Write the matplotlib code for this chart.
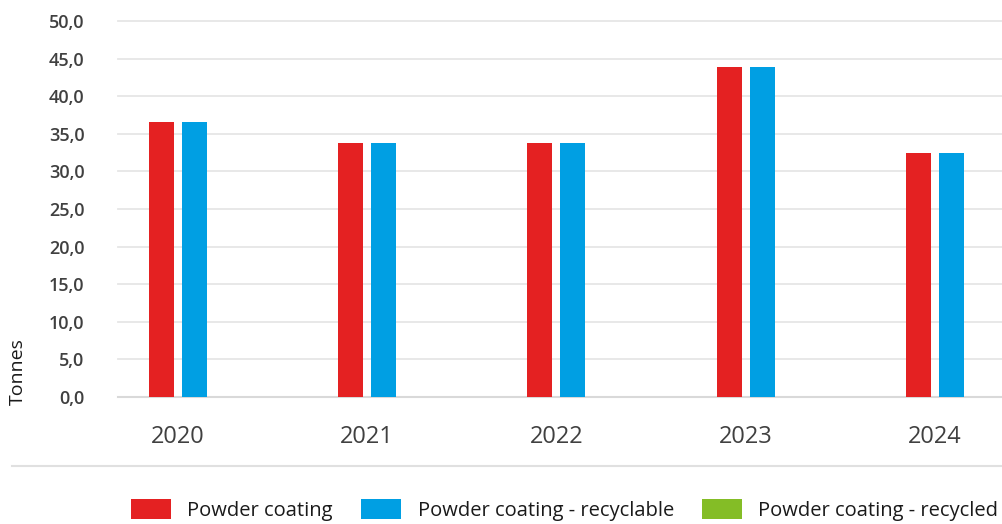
import numpy as np
import matplotlib
matplotlib.use("Agg")
import matplotlib.pyplot as plt
from matplotlib.patches import Patch
from matplotlib.ticker import FuncFormatter

plt.rcParams["font.family"] = ["Open Sans", "DejaVu Sans"]

years = ["2020", "2021", "2022", "2023", "2024"]
powder = [36.6, 33.8, 33.8, 43.9, 32.4]
recyclable = [36.6, 33.8, 33.8, 43.9, 32.4]
recycled = [0.0, 0.0, 0.0, 0.0, 0.0]

series_names = ["Powder coating", "Powder coating - recyclable", "Powder coating - recycled"]
colors = ["#e42122", "#009fe3", "#84bd26"]

fig = plt.figure(figsize=(10.03, 5.24), dpi=100)
ax = fig.add_axes([0.1176, 0.2424, 0.8824, 0.7176])

x = np.arange(len(years))
w = 0.132
ax.bar(x - 0.087, powder, width=w, color=colors[0], zorder=3)
ax.bar(x + 0.087, recyclable, width=w, color=colors[1], zorder=3)
ax.bar(x, recycled, width=w, color=colors[2], zorder=3)

ax.set_xlim(-0.317, 4.36)
ax.set_ylim(0, 50)
ax.set_yticks(np.arange(0, 51, 5))
ax.yaxis.set_major_formatter(FuncFormatter(lambda v, p: f"{v:.1f}".replace(".", ",")))
ax.set_xticks(x)
ax.set_xticklabels(years)

for s in ax.spines.values():
    s.set_visible(False)
ax.grid(axis="y", color="#e6e6e6", linewidth=1.3, zorder=0)
ax.set_axisbelow(True)
for gl in ax.get_ygridlines():
    gl.set_clip_on(False)
ax.axhline(0, color="#d9d9d9", linewidth=1.5, zorder=1, clip_on=False)

ax.tick_params(axis="both", length=0)
ax.tick_params(axis="y", labelsize=13, labelcolor="#404040", pad=24)
for lbl in ax.get_yticklabels():
    lbl.set_fontweight("semibold")
ax.tick_params(axis="x", labelsize=17, labelcolor="#404040", pad=20)

fig.text(0.018, 0.29, "Tonnes", rotation=90, fontsize=14, color="#1a1a1a",
         ha="center", va="center")

# separator line under the x labels
fig.add_artist(plt.Line2D([0.012, 1.0], [0.111, 0.111], color="#e0e0e0", linewidth=1.5))

handles = [Patch(facecolor=c, edgecolor="none") for c in colors]
fig.legend(handles, series_names, loc="center", bbox_to_anchor=(0.563, 0.027), ncol=3,
           frameon=False, fontsize=14.5, handlelength=2.0, handleheight=1.15,
           handletextpad=0.8, columnspacing=1.4, labelcolor="#1a1a1a")

fig.savefig("out.png", dpi=100)
